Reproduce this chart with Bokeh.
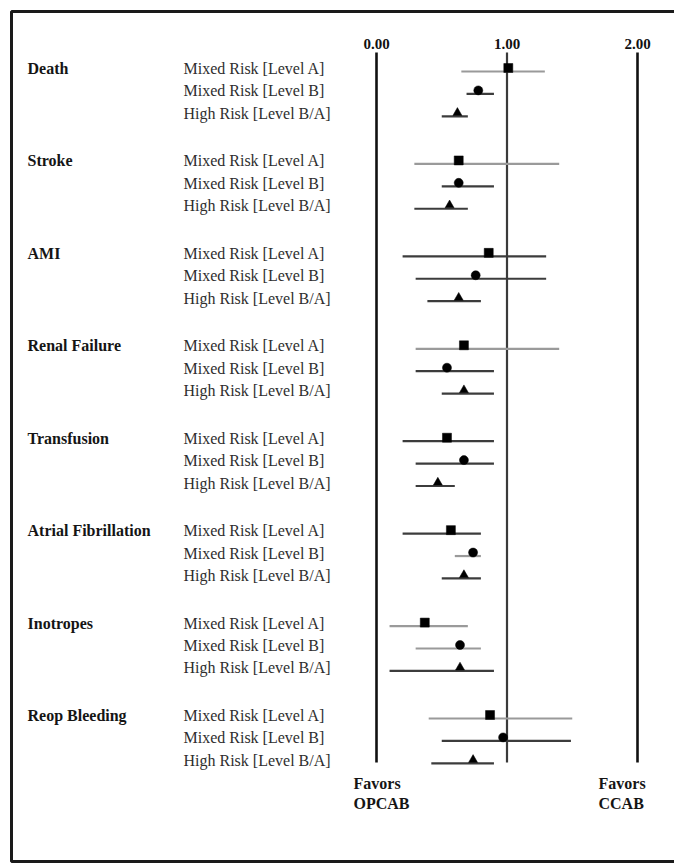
from bokeh.plotting import figure
from bokeh.models import Range1d, Label, ColumnDataSource
from bokeh.core.properties import value
from bokeh.embed import file_html
from bokeh.resources import INLINE

# ---------------- data ----------------
outcomes = ["Death", "Stroke", "AMI", "Renal Failure", "Transfusion",
            "Atrial Fibrillation", "Inotropes", "Reop Bleeding"]
subgroups = ["Mixed Risk [Level A]", "Mixed Risk [Level B]", "High Risk [Level B/A]"]
markers = ["square", "circle", "triangle"]

# point estimate, lower and upper bound for each outcome x subgroup (A, B, B/A)
estimate = [[1.01, 0.78, 0.62],
            [0.63, 0.63, 0.56],
            [0.86, 0.76, 0.63],
            [0.67, 0.54, 0.67],
            [0.54, 0.67, 0.47],
            [0.57, 0.74, 0.67],
            [0.37, 0.64, 0.64],
            [0.87, 0.97, 0.74]]
lower = [[0.65, 0.69, 0.50],
         [0.29, 0.50, 0.29],
         [0.20, 0.30, 0.39],
         [0.30, 0.30, 0.50],
         [0.20, 0.30, 0.30],
         [0.20, 0.60, 0.50],
         [0.10, 0.30, 0.10],
         [0.40, 0.50, 0.42]]
upper = [[1.29, 0.90, 0.70],
         [1.40, 0.90, 0.70],
         [1.30, 1.30, 0.80],
         [1.40, 0.90, 0.90],
         [0.90, 0.90, 0.60],
         [0.80, 0.80, 0.80],
         [0.70, 0.80, 0.90],
         [1.50, 1.49, 0.90]]
# light (scanned grey) or dark interval line
light_line = [[1, 0, 0],
              [1, 0, 0],
              [0, 0, 0],
              [1, 0, 0],
              [0, 0, 0],
              [0, 1, 0],
              [1, 1, 0],
              [1, 0, 0]]

tick_values = [0.0, 1.0, 2.0]
tick_labels = ["0.00", "1.00", "2.00"]

# ---------------- layout ----------------
W, H = 674, 866
X0PX, UNIT = 376.0, 130.5          # pixel position of 0.00 and pixels per unit
Y0, GSTEP, RSTEP = 68.0, 92.43, 22.4

def xd(px):
    return (px - X0PX) / UNIT

SERIF = value("Liberation Serif")

p = figure(width=W, height=H, x_range=Range1d(xd(0), xd(W)), y_range=Range1d(H, 0),
           x_axis_type=None, y_axis_type=None, output_backend="svg",
           toolbar_location=None, min_border=0)
p.grid.visible = False
p.outline_line_color = None
p.background_fill_color = "white"
p.border_fill_color = "white"

# outer frame (right side runs off the page as in the scan)
p.quad(left=xd(11), right=xd(740), top=11, bottom=861, fill_color=None,
       line_color="#1a1a1a", line_width=3)

# reference vertical lines and their labels
p.segment(x0=tick_values, x1=tick_values, y0=[52] * 3, y1=[762] * 3,
          line_color=["#111111", "#3a3a3a", "#111111"], line_width=[2.6, 2.2, 2.6])
p.text(x=tick_values, y=[43] * 3, text=tick_labels, text_font=SERIF,
       text_font_style="bold", text_font_size="15px", text_align="center",
       text_baseline="middle", text_color="#111111")

lx0, lx1, ly, mx, my, mk, lc = [], [], [], [], [], [], []
for g, name in enumerate(outcomes):
    gy = Y0 + g * GSTEP
    p.add_layout(Label(x=27, y=gy, x_units="screen", y_units="data", text=name,
                       text_font="Liberation Serif", text_font_style="bold",
                       text_font_size="16px", text_baseline="middle",
                       text_color="#151515"))
    for r, sub in enumerate(subgroups):
        ry = gy + r * RSTEP
        p.add_layout(Label(x=183, y=ry, x_units="screen", y_units="data", text=sub,
                           text_font="Liberation Serif", text_font_size="16px",
                           text_baseline="middle", text_color="#2e2e2e"))
        lx0.append(lower[g][r]); lx1.append(upper[g][r]); ly.append(ry + 3)
        mx.append(estimate[g][r]); my.append(ry - 0.5); mk.append(markers[r])
        lc.append("#9a9a9a" if light_line[g][r] else "#3c3c3c")

p.segment(x0=lx0, x1=lx1, y0=ly, y1=ly, line_color=lc, line_width=2.2)
src = ColumnDataSource(dict(x=mx, y=my, m=mk))
p.scatter(x="x", y="y", marker="m", size=9, source=src,
          fill_color="black", line_color="black", line_width=0.5)

# favour labels
for txt, yy in (("Favors", 783), ("OPCAB", 803)):
    p.add_layout(Label(x=0, y=yy, x_offset=-23, text=txt, text_font="Liberation Serif",
                       text_font_style="bold", text_font_size="16px",
                       text_baseline="middle", text_color="#151515"))
for txt, yy in (("Favors", 783), ("CCAB", 803)):
    p.add_layout(Label(x=2, y=yy, x_offset=-39, text=txt, text_font="Liberation Serif",
                       text_font_style="bold", text_font_size="16px",
                       text_baseline="middle", text_color="#151515"))

open("out.html", "w").write(file_html(p, INLINE))
